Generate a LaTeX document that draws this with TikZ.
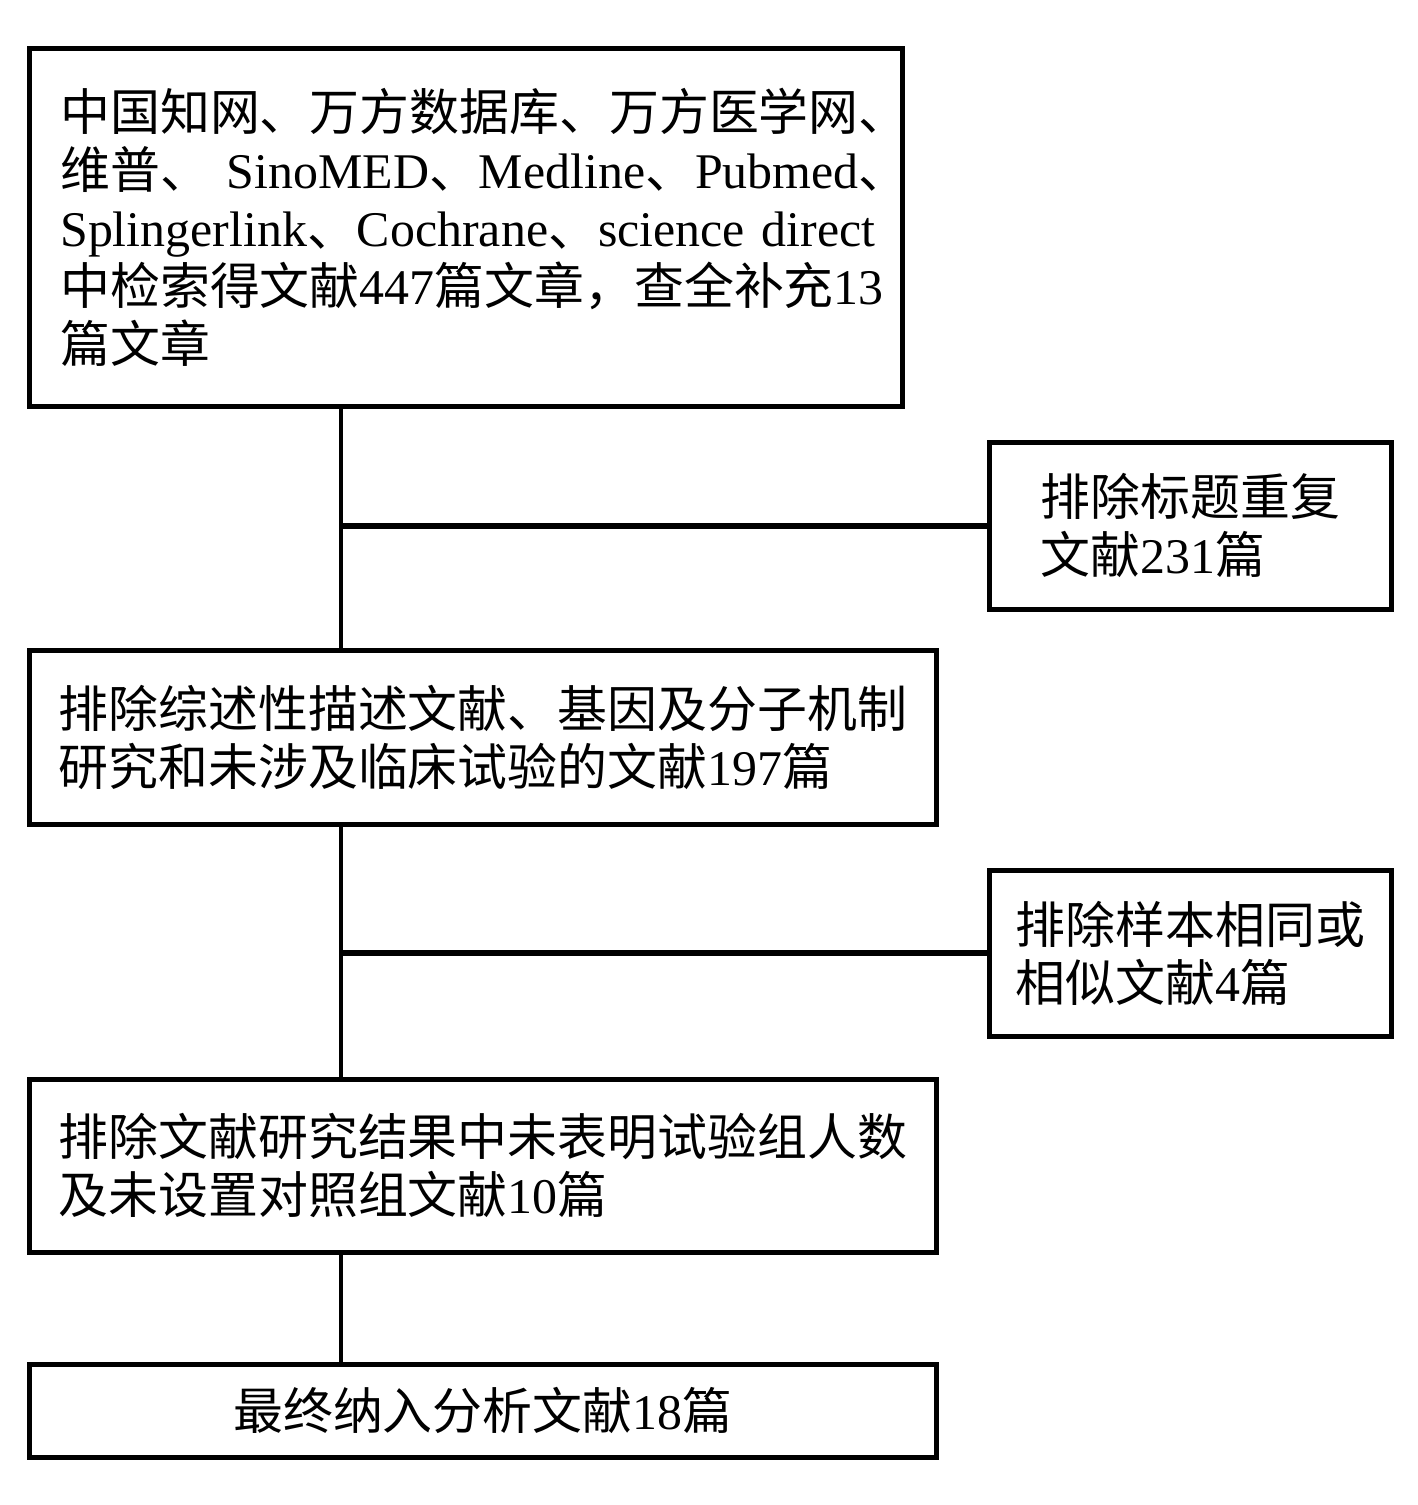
\documentclass[tikz,border=0pt]{standalone}
\usepackage{fontspec}
\setmainfont{Noto Sans CJK SC}
\newfontfamily\en[Scale=1.0]{Liberation Serif}
\newcommand{\tm}[1]{{\en #1}}

\begin{document}
\begin{tikzpicture}[
    box/.style={draw, line width=1.3pt, align=left, inner xsep=0.1cm,
        font=\fontsize{14.2}{16.5}\selectfont},
    vline/.style={line width=0.9pt},
    hline/.style={line width=1.6pt}
]
\useasboundingbox (0,0) rectangle (14.17,-15.05);
\coordinate (trunk) at (3.41,0);

% main column
\node[box, anchor=north west, inner xsep=0.31cm, text width=8.11cm, minimum height=3.58cm] (search) at (0.27,-0.46)
    {\mbox{中国知网、万方数据库、万方医学网、}\\
     \mbox{维普、 \tm{SinoMED}、\tm{Medline}、\tm{Pubmed}、}\\
     \mbox{\tm{Splingerlink}、\tm{Cochrane}、\tm{science direct}}\\
     \mbox{中检索得文献\tm{447}篇文章，查全补充\tm{13}}\\
     篇文章};
\node[box, anchor=north west, minimum width=9.07cm, minimum height=1.74cm] (review) at (0.27,-6.48)
    {排除综述性描述文献、基因及分子机制\\
     研究和未涉及临床试验的文献\tm{197}篇};
\node[box, anchor=north west, minimum width=9.07cm, minimum height=1.73cm] (nodata) at (0.27,-10.77)
    {排除文献研究结果中未表明试验组人数\\
     及未设置对照组文献\tm{10}篇};
\node[box, anchor=north west, minimum width=9.07cm, minimum height=0.93cm] (final) at (0.27,-13.62)
    {最终纳入分析文献\tm{18}篇};

% exclusions on the right
\node[box, anchor=north west, minimum width=4.02cm, minimum height=1.67cm] (dup) at (9.87,-4.40)
    {排除标题重复\\文献\tm{231}篇};
\node[box, anchor=north west, minimum width=4.02cm, minimum height=1.66cm] (same) at (9.87,-8.68)
    {排除样本相同或\\相似文献\tm{4}篇};

\draw[vline] (search.south -| trunk) -- (review.north -| trunk);
\draw[vline] (review.south -| trunk) -- (nodata.north -| trunk);
\draw[vline] (nodata.south -| trunk) -- (final.north -| trunk);
\draw[hline] (dup.west -| trunk) -- (dup.west);
\draw[hline] (same.west -| trunk) -- (same.west);
\end{tikzpicture}
\end{document}
